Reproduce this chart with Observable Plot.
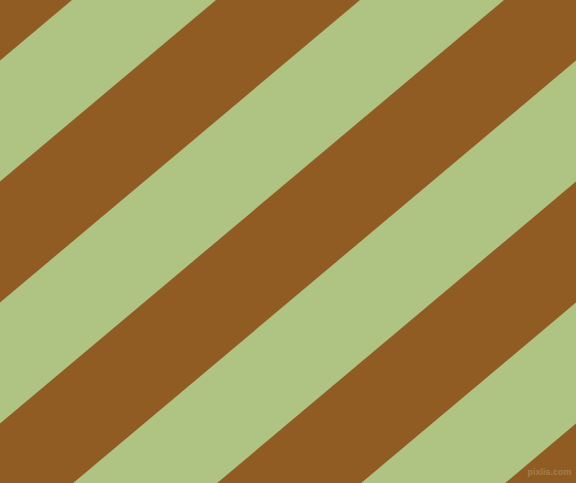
<!DOCTYPE html>
<html>
<head>
<meta charset="utf-8">
<script src="https://cdn.jsdelivr.net/npm/d3@7"></script>
<script src="https://cdn.jsdelivr.net/npm/@observablehq/plot@0.6"></script>
<style>
html,body{margin:0;padding:0;background:#AFC383;overflow:hidden}
svg{display:block}
</style>
</head>
<body>
<div id="chart"></div>
<script>
// stripe pattern parameters
const periodX = 288;   // horizontal period along the top edge
const periodY = 242;   // vertical period along the left edge
const brownStarts = [-0.25, 0.75, 1.75, 2.75, 3.75];
const stripeWidth = 0.5;
const xEnds = [0, 576];
const colors = {brown: "#915C24", green: "#AFC383"};
const watermark = ["pixlis.com"];

const rows = [];
brownStarts.forEach((c, i) => {
  xEnds.forEach(x => {
    rows.push({
      stripe: i,
      x,
      y1: periodY * (c - x / periodX),
      y2: periodY * (c + stripeWidth - x / periodX)
    });
  });
});

const chart = Plot.plot({
  width: 576,
  height: 483,
  margin: 0,
  style: {background: colors.green},
  x: {domain: [0, 576], range: [0, 576], axis: null},
  y: {domain: [0, 483], range: [0, 483], axis: null},
  marks: [
    Plot.frame({fill: colors.green, stroke: null}),
    Plot.areaY(rows, {x: "x", y1: "y1", y2: "y2", z: "stripe", fill: colors.brown, clip: true}),
    Plot.text(watermark, {frameAnchor: "bottom-right", dx: -5, dy: -9, fill: "#A27E4C", fontSize: 9, fontWeight: "bold", fontFamily: "Liberation Sans", text: d => d})
  ]
});
document.getElementById("chart").appendChild(chart);
</script>
</body>
</html>
